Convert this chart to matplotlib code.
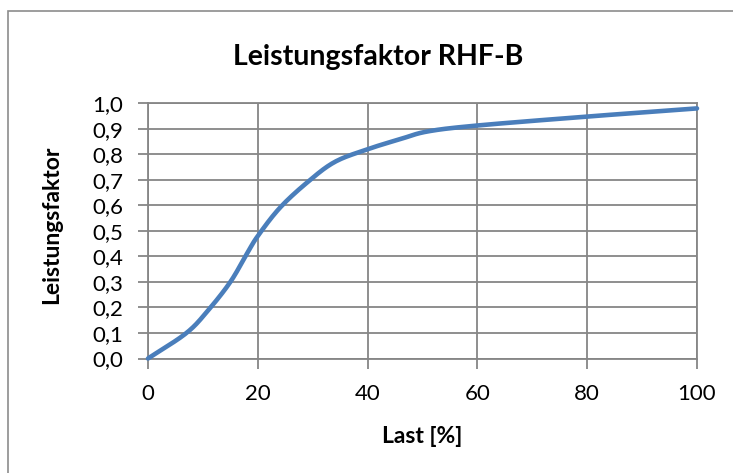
import matplotlib
matplotlib.use("Agg")
import matplotlib.pyplot as plt
import numpy as np
from matplotlib.patches import Rectangle

# Load in percent and corresponding power factor
last = [0, 7, 11, 15, 18, 20, 24, 29, 34, 40, 46, 51, 60, 80, 100]
leistungsfaktor = [0.0, 0.10, 0.19, 0.30, 0.41, 0.48, 0.59, 0.69, 0.77, 0.82, 0.86, 0.89, 0.913, 0.948, 0.98]

x_ticks = [0, 20, 40, 60, 80, 100]
y_ticks = [i / 10 for i in range(11)]
y_tick_labels = [f"{v:.1f}".replace(".", ",") for v in y_ticks]


def smooth_curve(xs, ys, steps=20):
    """Catmull-Rom spline through the given points (smoothed line style)."""
    p = np.column_stack([xs, ys]).astype(float)
    p = np.vstack([p[0] * 2 - p[1], p, p[-1] * 2 - p[-2]])
    out = []
    t = np.linspace(0, 1, steps, endpoint=False)[:, None]
    for i in range(1, len(p) - 2):
        p0, p1, p2, p3 = p[i - 1], p[i], p[i + 1], p[i + 2]
        seg = 0.5 * ((2 * p1) + (-p0 + p2) * t + (2 * p0 - 5 * p1 + 4 * p2 - p3) * t ** 2
                     + (-p0 + 3 * p1 - 3 * p2 + p3) * t ** 3)
        out.append(seg)
    out.append(p[-2][None, :])
    out = np.vstack(out)
    return out[:, 0], out[:, 1]


plt.rcParams["font.family"] = ["Lato", "DejaVu Sans"]

W, H = 733, 473
fig = plt.figure(figsize=(W / 100, H / 100), dpi=100)
fig.patches.append(Rectangle((8 / W, -0.05), 1.2, 1 - 11 / H + 0.05,
                             transform=fig.transFigure, fill=False,
                             edgecolor="#8c8c8c", linewidth=1.2))

ax = fig.add_axes([148 / W, 1 - 358.5 / H, (697 - 148) / W, (358.5 - 103.3) / H])
grid_col = "#868686"
sx, sy = smooth_curve(last, leistungsfaktor)
ax.plot(sx, sy, color="#4a7ebb", linewidth=3.3,
        solid_joinstyle="round", solid_capstyle="round", zorder=3, clip_on=False)

ax.set_xlim(0, 100)
ax.set_ylim(0, 1.0)
ax.set_xticks(x_ticks)
ax.set_yticks(y_ticks)
ax.set_yticklabels(y_tick_labels)
ax.grid(True, color=grid_col, linewidth=1.3)
for s in ax.spines.values():
    s.set_color(grid_col)
    s.set_linewidth(1.3)
ax.tick_params(axis="both", direction="out", length=7, width=1.3, color=grid_col,
               labelsize=16, labelcolor="black")
ax.tick_params(axis="y", pad=11)
ax.tick_params(axis="x", pad=11)

fig.text(422 / W, 1 - 436 / H, "Last [%]", ha="center", va="center",
         fontsize=16.5, fontweight="bold")
fig.text(52 / W, 1 - 225 / H, "Leistungsfaktor", ha="center", va="center",
         rotation=90, fontsize=16.5, fontweight="bold")
fig.text(378 / W, 1 - 57 / H, "Leistungsfaktor RHF-B", ha="center", va="center",
         fontsize=20.5, fontweight="bold")

fig.savefig("out.png", dpi=100)
